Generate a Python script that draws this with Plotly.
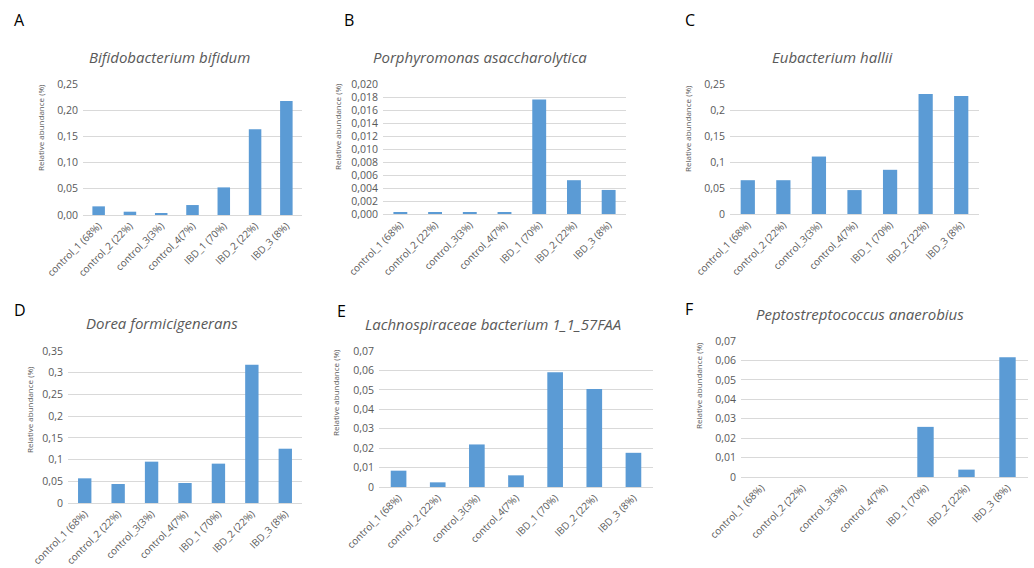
import plotly.graph_objects as go

categories = ["control_1 (68%)", "control_2 (22%)", "control_3(3%)", "control_4(7%)",
              "IBD_1 (70%)", "IBD_2 (22%)", "IBD_3 (8%)"]

titles = ["Bifidobacterium bifidum", "Porphyromonas asaccharolytica", "Eubacterium hallii",
          "Dorea formicigenerans", "Lachnospiraceae bacterium 1_1_57FAA", "Peptostreptococcus anaerobius"]
letters = ["A", "B", "C", "D", "E", "F"]

vals_a = [0.0165, 0.0063, 0.0038, 0.019, 0.0527, 0.1637, 0.2176]
vals_b = [0.0003, 0.0003, 0.0003, 0.0003, 0.0176, 0.0052, 0.0037]
vals_c = [0.065, 0.065, 0.1105, 0.046, 0.085, 0.231, 0.227]
vals_d = [0.0568, 0.0437, 0.0952, 0.046, 0.0906, 0.3185, 0.125]
vals_e = [0.0084, 0.0024, 0.0219, 0.006, 0.059, 0.0505, 0.0176]
vals_f = [0.0, 0.0, 0.0, 0.0, 0.0258, 0.0038, 0.0617]

ticks_a = [0, 0.05, 0.10, 0.15, 0.20, 0.25]
labels_a = ["0,00", "0,05", "0,10", "0,15", "0,20", "0,25"]
ticks_b = [0, 0.002, 0.004, 0.006, 0.008, 0.010, 0.012, 0.014, 0.016, 0.018, 0.020]
labels_b = ["0,000", "0,002", "0,004", "0,006", "0,008", "0,010", "0,012", "0,014", "0,016", "0,018", "0,020"]
ticks_c = [0, 0.05, 0.1, 0.15, 0.2, 0.25]
labels_c = ["0", "0,05", "0,1", "0,15", "0,2", "0,25"]
ticks_d = [0, 0.05, 0.1, 0.15, 0.2, 0.25, 0.3, 0.35]
labels_d = ["0", "0,05", "0,1", "0,15", "0,2", "0,25", "0,3", "0,35"]
ticks_e = [0, 0.01, 0.02, 0.03, 0.04, 0.05, 0.06, 0.07]
labels_e = ["0", "0,01", "0,02", "0,03", "0,04", "0,05", "0,06", "0,07"]
ticks_f = ticks_e
labels_f = labels_e

ytitle = "Relative abundance (%)"

W, H = 1034, 568
# panel plot-area boxes in pixels: x0, x1, ytop, ybottom
boxes = [(83, 302, 84, 215), (383, 626, 84, 214), (730, 979, 84, 214),
         (68, 302, 351, 503), (379, 653, 351, 487), (741, 1028, 341, 477)]
title_pos = [(169, 57), (480, 57), (832, 57), (162, 323), (493, 324), (860, 314)]
letter_pos = [(19, 20), (349, 20), (690, 20), (20, 310), (341, 311), (689, 309)]
ytitle_pos = [(40, 128), (338, 127), (687, 129), (29, 410), (335, 393), (698, 386)]

series = [vals_a, vals_b, vals_c, vals_d, vals_e, vals_f]
tickv = [ticks_a, ticks_b, ticks_c, ticks_d, ticks_e, ticks_f]
tickt = [labels_a, labels_b, labels_c, labels_d, labels_e, labels_f]

FONT = "Open Sans"
GREY = "#595959"
fig = go.Figure()
layout = dict(width=W, height=H, margin=dict(l=0, r=0, t=0, b=0, autoexpand=False),
              paper_bgcolor="white", plot_bgcolor="white", showlegend=False,
              bargap=0.6, font=dict(family=FONT, color=GREY))
annotations = []
for i in range(6):
    n = "" if i == 0 else str(i + 1)
    fig.add_trace(go.Bar(x=categories, y=series[i], marker=dict(color="#5B9BD5", line=dict(width=0)),
                         xaxis="x" + n, yaxis="y" + n, hoverinfo="x+y"))
    x0, x1, yt, yb = boxes[i]
    layout["xaxis" + n] = dict(domain=[x0 / W, x1 / W], anchor="y" + n, tickangle=-45,
                               tickfont=dict(size=10, color=GREY, family=FONT), showgrid=False,
                               showline=True, linecolor="#D9D9D9", linewidth=1, ticks="",
                               automargin=False, fixedrange=True)
    rmax = tickv[i][-1]
    layout["yaxis" + n] = dict(domain=[1 - yb / H, 1 - yt / H], anchor="x" + n, range=[0, rmax],
                               tickvals=tickv[i], ticktext=tickt[i], showgrid=True,
                               gridcolor="#D9D9D9", gridwidth=1, zeroline=False, showline=False,
                               tickfont=dict(size=10.5, color=GREY, family=FONT), ticks="",
                               ticklabelstandoff=4, automargin=False, fixedrange=True)
    tx, ty = title_pos[i]
    annotations.append(dict(x=tx / W, y=1 - ty / H, xref="paper", yref="paper", text="<i>" + titles[i] + "</i>",
                            showarrow=False, xanchor="center", yanchor="middle",
                            font=dict(size=15, color=GREY, family=FONT)))
    lx, ly = letter_pos[i]
    annotations.append(dict(x=lx / W, y=1 - ly / H, xref="paper", yref="paper", text=letters[i],
                            showarrow=False, xanchor="center", yanchor="middle",
                            font=dict(size=16, color="black", family=FONT)))
    ax, ay = ytitle_pos[i]
    annotations.append(dict(x=ax / W, y=1 - ay / H, xref="paper", yref="paper", text=ytitle,
                            showarrow=False, xanchor="center", yanchor="middle", textangle=-90,
                            font=dict(size=8, color=GREY, family=FONT)))
layout["annotations"] = annotations
fig.update_layout(**layout)
fig.write_html("out.html", config={"displayModeBar": False},
               post_script="document.body.style.margin='0';document.body.style.overflow='hidden';")
